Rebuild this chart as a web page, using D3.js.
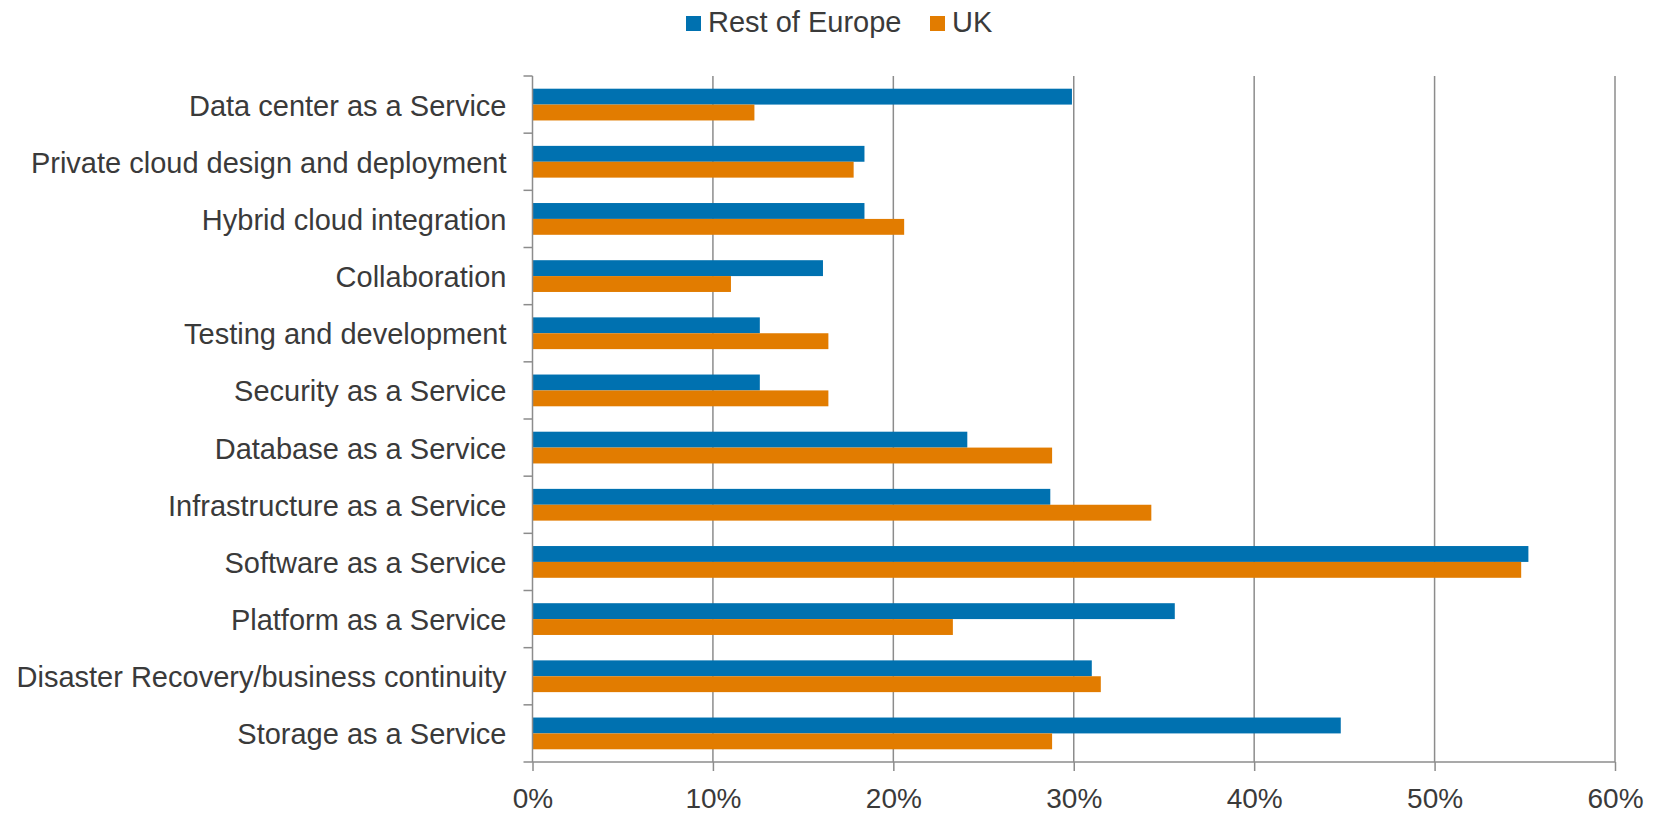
<!DOCTYPE html>
<html><head><meta charset="utf-8">
<script src="https://cdn.jsdelivr.net/npm/d3@7"></script>
<style>body{margin:0;background:#fff}svg{display:block}text{font-family:"Liberation Sans",Arial,sans-serif;fill:#3a3a3a}</style>
</head><body><svg id="c" width="1665" height="814"></svg>
<script>
const categories = ["Data center as a Service","Private cloud design and deployment","Hybrid cloud integration","Collaboration","Testing and development","Security as a Service","Database as a Service","Infrastructure as a Service","Software as a Service","Platform as a Service","Disaster Recovery/business continuity","Storage as a Service"];
const restOfEurope = [29.9,18.4,18.4,16.1,12.6,12.6,24.1,28.7,55.2,35.6,31.0,44.8];
const uk = [12.3,17.8,20.6,11.0,16.4,16.4,28.8,34.3,54.8,23.3,31.5,28.8];
const seriesNames = ["Rest of Europe","UK"];
const colors = ["#0071b0","#e27c00"];
const xTicks = [0,10,20,30,40,50,60];

const svg = d3.select("#c");
const L = 532.5, R = 1615, T = 76, B = 762;
const x = d3.scaleLinear().domain([0,60]).range([L,R]);
const y = d3.scaleBand().domain(categories).range([T,B]);
const inner = d3.scaleBand().domain(seriesNames).range([0,y.bandwidth()]).paddingOuter(0.8).paddingInner(0);
const grid = "#8c8c8c";

// gridlines
svg.append("g").selectAll("line").data(xTicks.slice(1)).join("line")
  .attr("x1",d=>x(d)).attr("x2",d=>x(d)).attr("y1",T).attr("y2",B)
  .attr("stroke",grid).attr("stroke-width",1.5);

// bars
const data = [restOfEurope, uk];
const g = svg.append("g");
seriesNames.forEach((s,si)=>{
  g.selectAll(null).data(categories).join("rect")
    .attr("x",x(0)).attr("y",(c)=>y(c)+inner(s))
    .attr("width",(c,i)=>x(data[si][i])-x(0)).attr("height",inner.bandwidth())
    .attr("fill",colors[si]);
});

// bottom axis
const xa = svg.append("g").attr("transform",`translate(0,${B})`)
  .call(d3.axisBottom(x).tickValues(xTicks).tickFormat(d=>d+"%").tickSize(9).tickPadding(17));
xa.select(".domain").attr("stroke",grid).attr("stroke-width",1.5).attr("d",`M${L},0H${R}`);
xa.selectAll(".tick line").attr("stroke",grid).attr("stroke-width",1.5);
xa.selectAll("text").attr("font-size",28).style("fill","#3a3a3a");

// left axis
const ya = svg.append("g").attr("transform",`translate(${L},0)`)
  .call(d3.axisLeft(y).tickSize(0).tickPadding(26));
ya.select(".domain").attr("stroke",grid).attr("stroke-width",1.5).attr("d",`M0,${T}V${B}`);
ya.selectAll("text").attr("font-size",29).attr("dy","0.38em").style("fill","#3a3a3a");
const bounds = categories.map(c=>y(c)).concat([B]);
ya.selectAll(".bt").data(bounds).join("line").attr("class","bt")
  .attr("x1",-9).attr("x2",0).attr("y1",d=>d).attr("y2",d=>d)
  .attr("stroke",grid).attr("stroke-width",1.5);

// legend
const leg = svg.append("g");
const legX = [686, 930];
seriesNames.forEach((s,i)=>{
  leg.append("rect").attr("x",legX[i]).attr("y",16).attr("width",15).attr("height",15).attr("fill",colors[i]);
  leg.append("text").attr("x",legX[i]+22).attr("y",32).attr("font-size",29).text(s);
});
</script></body></html>
